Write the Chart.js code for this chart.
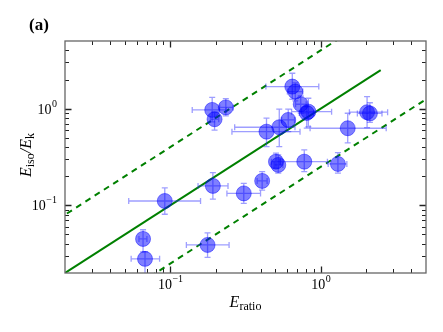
<!DOCTYPE html>
<html>
<head>
<meta charset="utf-8">
<script src="https://cdn.jsdelivr.net/npm/chart.js@4.4.1/dist/chart.umd.min.js"></script>
<style>
  html, body { margin: 0; padding: 0; background: #fff; }
  #wrap { width: 443px; height: 332px; }
</style>
</head>
<body>
<div id="wrap"><canvas id="chart" width="443" height="332"></canvas></div>
<script>
// valeurs
const eRatio   = [0.066, 0.068, 0.092, 0.177, 0.192, 0.190, 0.197, 0.234, 0.308, 0.408, 0.436, 0.530, 0.608, 0.504, 0.522, 0.777, 1.30, 1.51, 2.03, 2.12, 0.647, 0.677, 0.736, 0.827, 0.807];
const eIsoEk   = [0.045, 0.028, 0.111, 0.039, 0.159, 0.97, 0.777, 1.03, 0.133, 0.179, 0.578, 0.642, 0.764, 0.283, 0.262, 0.283, 0.268, 0.627, 0.918, 0.892, 1.69, 1.50, 1.11, 0.931, 0.903];
const xErrLow  = [0.062, 0.055, 0.053, 0.128, 0.153, 0.140, 0.185, 0.213, 0.238, 0.378, 0.257, 0.268, 0.55, 0.47, 0.49, 0.535, 1.12, 0.849, 1.55, 1.75, 0.432, 0.60, 0.68, 0.64, 0.72];
const xErrHigh = [0.070, 0.085, 0.159, 0.246, 0.242, 0.235, 0.210, 0.262, 0.398, 0.440, 0.728, 0.674, 0.67, 0.54, 0.56, 1.107, 1.49, 2.72, 2.78, 2.55, 0.97, 0.76, 0.80, 1.18, 0.90];
const yErrLow  = [0.033, 0.018, 0.081, 0.029, 0.116, 0.73, 0.60, 0.84, 0.105, 0.144, 0.405, 0.405, 0.578, 0.243, 0.215, 0.223, 0.215, 0.442, 0.636, 0.72, 1.25, 1.2, 0.9, 0.647, 0.63];
const yErrHigh = [0.056, 0.033, 0.152, 0.052, 0.218, 1.31, 0.92, 1.27, 0.169, 0.223, 0.796, 0.986, 0.986, 0.346, 0.332, 0.374, 0.351, 0.896, 1.33, 1.15, 2.32, 1.85, 1.35, 1.28, 1.05];

// droite y = x et bande y = 4x, y = x/4
const fitRange = [0.02, 2.5];
const bandRange = [0.005, 10];
const bandFactor = 4;

// graduations
const xMajor = [0.1, 1];
const xMajorExp = ['\u22121', '0'];
const yMajor = [0.1, 1];
const yMajorExp = ['\u22121', '0'];
const xMinor = [0.03, 0.04, 0.05, 0.06, 0.07, 0.08, 0.09, 0.2, 0.3, 0.4, 0.5, 0.6, 0.7, 0.8, 0.9, 2, 3, 4];
const yMinor = [0.03, 0.04, 0.05, 0.06, 0.07, 0.08, 0.09, 0.2, 0.3, 0.4, 0.5, 0.6, 0.7, 0.8, 0.9, 2, 3, 4];

const points = eRatio.map((x, i) => ({ x: x, y: eIsoEk[i] }));
const fitLine = fitRange.map((x) => ({ x: x, y: x }));
const upperLine = bandRange.map((x) => ({ x: x, y: x * bandFactor }));
const lowerLine = bandRange.map((x) => ({ x: x, y: x / bandFactor }));

const serif = '"Liberation Serif", "DejaVu Serif", serif';

// barres d'erreur, dessinées juste avant les cercles
const errorBars = {
  id: 'errorBars',
  beforeDatasetDraw(chart, args) {
    if (args.index !== 0) return;
    const { ctx, chartArea, scales } = chart;
    const xs = scales.x, ys = scales.y;
    ctx.save();
    ctx.beginPath();
    ctx.rect(chartArea.left, chartArea.top, chartArea.right - chartArea.left, chartArea.bottom - chartArea.top);
    ctx.clip();
    ctx.strokeStyle = 'rgba(40, 40, 255, 0.45)';
    ctx.lineWidth = 1.3;
    const cap = 3;
    eRatio.forEach((x, i) => {
      const px = xs.getPixelForValue(x);
      const py = ys.getPixelForValue(eIsoEk[i]);
      const x1 = xs.getPixelForValue(xErrLow[i]);
      const x2 = xs.getPixelForValue(xErrHigh[i]);
      const y1 = ys.getPixelForValue(yErrLow[i]);
      const y2 = ys.getPixelForValue(yErrHigh[i]);
      ctx.beginPath();
      ctx.moveTo(x1, py); ctx.lineTo(x2, py);
      ctx.moveTo(x1, py - cap); ctx.lineTo(x1, py + cap);
      ctx.moveTo(x2, py - cap); ctx.lineTo(x2, py + cap);
      ctx.moveTo(px, y1); ctx.lineTo(px, y2);
      ctx.moveTo(px - cap, y1); ctx.lineTo(px + cap, y1);
      ctx.moveTo(px - cap, y2); ctx.lineTo(px + cap, y2);
      ctx.stroke();
    });
    ctx.restore();
  },
};

// cadre, graduations vers l'intérieur et textes
const frame = {
  id: 'frame',
  afterDraw(chart) {
    const { ctx, chartArea: a, scales } = chart;
    const xs = scales.x, ys = scales.y;
    ctx.save();
    ctx.strokeStyle = '#222';
    ctx.lineWidth = 1;
    const tick = (list, len) => {
      ctx.beginPath();
      list.forEach((v) => {
        const px = Math.round(xs.getPixelForValue(v)) + 0.5;
        ctx.moveTo(px, a.bottom); ctx.lineTo(px, a.bottom - len);
        ctx.moveTo(px, a.top); ctx.lineTo(px, a.top + len);
      });
      ctx.stroke();
    };
    const tickY = (list, len) => {
      ctx.beginPath();
      list.forEach((v) => {
        const py = Math.round(ys.getPixelForValue(v)) + 0.5;
        ctx.moveTo(a.left, py); ctx.lineTo(a.left + len, py);
        ctx.moveTo(a.right, py); ctx.lineTo(a.right - len, py);
      });
      ctx.stroke();
    };
    tick(xMinor, 4);
    tickY(yMinor, 4);
    ctx.lineWidth = 1.3;
    tick(xMajor, 6.5);
    tickY(yMajor, 6.5);

    ctx.strokeStyle = '#666';
    ctx.lineWidth = 1.3;
    ctx.strokeRect(a.left, a.top, a.right - a.left, a.bottom - a.top);

    ctx.fillStyle = '#000';
    // étiquettes x
    xMajor.forEach((v, i) => {
      const px = xs.getPixelForValue(v);
      ctx.font = '14px ' + serif;
      const wb = ctx.measureText('10').width;
      ctx.font = '10px ' + serif;
      const we = ctx.measureText(xMajorExp[i]).width;
      const left = px - (wb + we) / 2;
      ctx.textAlign = 'left';
      ctx.textBaseline = 'alphabetic';
      ctx.font = '14px ' + serif;
      ctx.fillText('10', left, a.bottom + 16);
      ctx.font = '10px ' + serif;
      ctx.fillText(xMajorExp[i], left + wb + 0.5, a.bottom + 9);
    });
    // étiquettes y
    yMajor.forEach((v, i) => {
      const py = ys.getPixelForValue(v);
      ctx.font = '10px ' + serif;
      const we = ctx.measureText(yMajorExp[i]).width;
      ctx.font = '14px ' + serif;
      const wb = ctx.measureText('10').width;
      const right = a.left - 8;
      ctx.textAlign = 'left';
      ctx.fillText('10', right - we - wb - 0.5, py + 5);
      ctx.font = '10px ' + serif;
      ctx.fillText(yMajorExp[i], right - we, py - 2);
    });

    // titre de l'axe x : E_ratio
    ctx.font = 'italic 16px ' + serif;
    const wE = ctx.measureText('E').width;
    ctx.font = '12px ' + serif;
    const wR = ctx.measureText('ratio').width;
    const cx = (a.left + a.right) / 2;
    const x0 = cx - (wE + wR) / 2;
    ctx.font = 'italic 16px ' + serif;
    ctx.fillText('E', x0, a.bottom + 34);
    ctx.font = '12px ' + serif;
    ctx.fillText('ratio', x0 + wE, a.bottom + 37);

    // titre de l'axe y : E_iso / E_k
    ctx.save();
    ctx.translate(31, 177);
    ctx.rotate(-Math.PI / 2);
    let x = 0;
    const part = (txt, font, dy) => {
      ctx.font = font;
      ctx.fillText(txt, x, dy);
      x += ctx.measureText(txt).width;
    };
    part('E', 'italic 16px ' + serif, 0);
    part('iso', '12px ' + serif, 3);
    part('/', 'italic 16px ' + serif, 0);
    part('E', 'italic 16px ' + serif, 0);
    part('k', '12px ' + serif, 3);
    ctx.restore();

    // lettre du panneau
    ctx.font = 'bold 17px ' + serif;
    ctx.fillText('(a)', 29, 30);
    ctx.restore();
  },
};

new Chart(document.getElementById('chart').getContext('2d'), {
  type: 'scatter',
  data: {
    datasets: [
      {
        data: points,
        pointRadius: 7.5,
        pointBackgroundColor: 'rgba(0, 0, 255, 0.5)',
        pointBorderColor: 'rgba(0, 0, 255, 0.45)',
        pointBorderWidth: 1,
      },
      {
        type: 'line',
        data: fitLine,
        borderColor: 'green',
        borderWidth: 2,
        pointRadius: 0,
        fill: false,
      },
      {
        type: 'line',
        data: upperLine,
        borderColor: 'green',
        borderWidth: 2,
        borderDash: [6, 5],
        pointRadius: 0,
        fill: false,
      },
      {
        type: 'line',
        data: lowerLine,
        borderColor: 'green',
        borderWidth: 2,
        borderDash: [6, 5],
        pointRadius: 0,
        fill: false,
      },
    ],
  },
  options: {
    responsive: false,
    animation: false,
    devicePixelRatio: 1,
    layout: { padding: { left: 65, right: 17, top: 41, bottom: 59 } },
    plugins: { legend: { display: false }, tooltip: { enabled: false } },
    scales: {
      x: { type: 'logarithmic', min: 0.02, max: 5, display: false },
      y: { type: 'logarithmic', min: 0.02, max: 5, display: false },
    },
  },
  plugins: [errorBars, frame],
});
</script>
</body>
</html>
